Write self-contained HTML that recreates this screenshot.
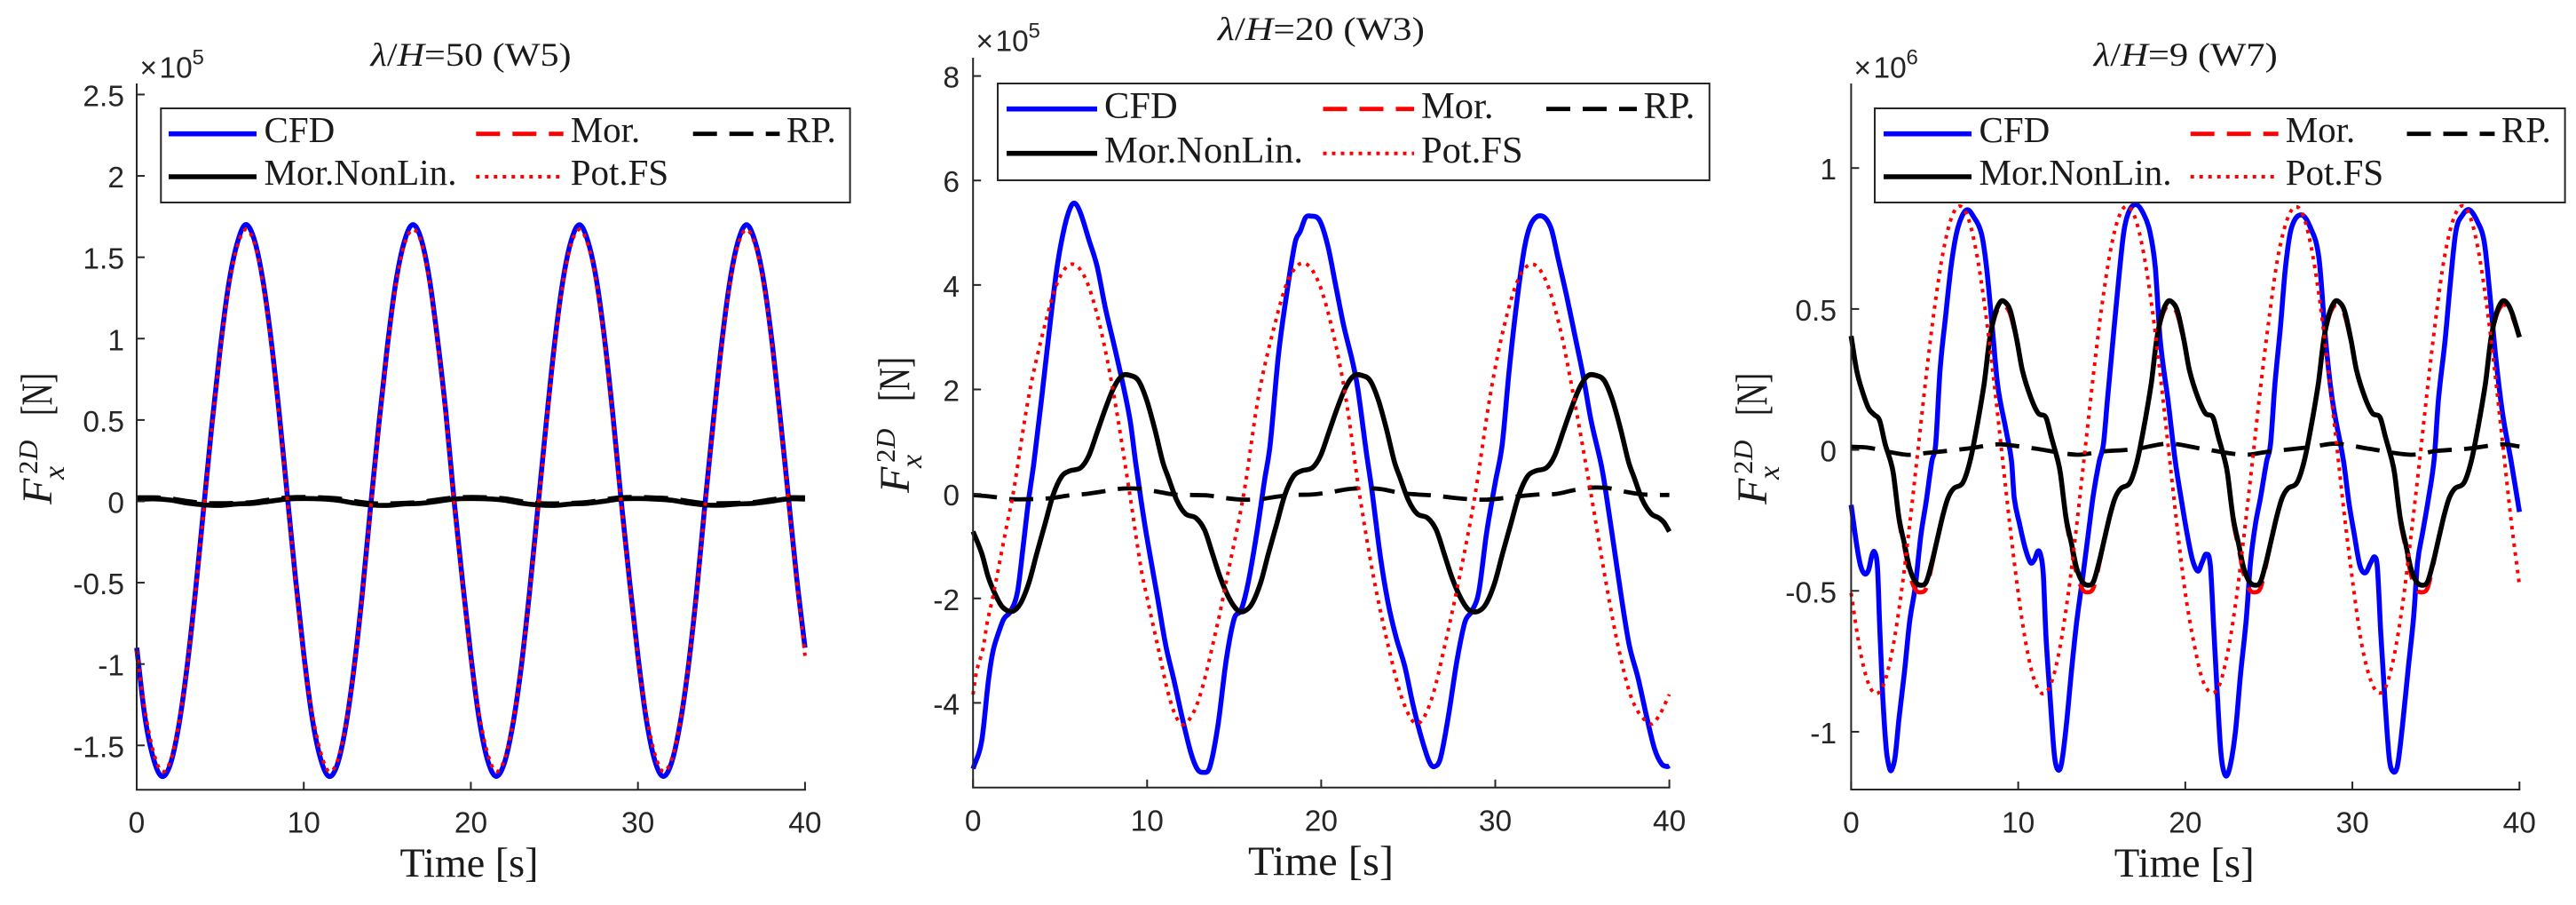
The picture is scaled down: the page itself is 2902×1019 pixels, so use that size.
<!DOCTYPE html>
<html lang="en">
<head>
<meta charset="utf-8">
<title>Horizontal force time series for three wave cases</title>
<style>
html,body{margin:0;padding:0;background:#fff;width:2902px;height:1019px;overflow:hidden}
svg{display:block}
.tick{font-family:"Liberation Sans",sans-serif;font-size:33.5px;fill:#262626}
.serif{font-family:"Liberation Serif",serif;fill:#1a1a1a}
</style>
</head>
<body>
<svg id="chart" xmlns="http://www.w3.org/2000/svg" width="2902" height="1019" viewBox="0 0 2902 1019"></svg>
<script>
// ---------- shared data ----------
const xTickValues = [0, 10, 20, 30, 40];
const xTickLabels = ['0', '10', '20', '30', '40'];
const seriesNames = ['CFD', 'Mor.', 'RP.', 'Mor.NonLin.', 'Pot.FS'];
const timeHalf = [0,.5,1,1.5,2,2.5,3,3.5,4,4.5,5,5.5,6,6.5,7,7.5,8,8.5,9,9.5,10,10.5,11,11.5,12,12.5,13,13.5,14,14.5,15,15.5,16,16.5,17,17.5,18,18.5,19,19.5,20,20.5,21,21.5,22,22.5,23,23.5,24,24.5,25,25.5,26,26.5,27,27.5,28,28.5,29,29.5,30,30.5,31,31.5,32,32.5,33,33.5,34,34.5,35,35.5,36,36.5,37,37.5,38,38.5,39,39.5,40];
const timeWhole = [0,1,2,3,4,5,6,7,8,9,10,11,12,13,14,15,16,17,18,19,20,21,22,23,24,25,26,27,28,29,30,31,32,33,34,35,36,37,38,39,40];

// ---------- panel 1: lambda/H = 50 (W5), x 1e5 ----------
const p1YTicks = [2.5, 2, 1.5, 1, 0.5, 0, -0.5, -1, -1.5];
const p1YTickLabels = ['2.5', '2', '1.5', '1', '0.5', '0', '-0.5', '-1', '-1.5'];
const p1Cfd = [-.90,-1.33,-1.58,-1.69,-1.62,-1.39,-1.03,-.57,-.05,.47,.94,1.33,1.58,1.70,1.62,1.39,1.03,.57,.05,-.47,-.94,-1.33,-1.58,-1.69,-1.62,-1.39,-1.03,-.57,-.03,.48,.95,1.34,1.59,1.70,1.62,1.38,1.00,.55,.0,-.49,-.95,-1.34,-1.59,-1.69,-1.61,-1.38,-1.03,-.57,-.05,.47,.96,1.35,1.60,1.70,1.60,1.37,1.00,.53,.0,-.49,-.95,-1.34,-1.59,-1.69,-1.61,-1.38,-1.03,-.57,-.03,.48,.96,1.35,1.60,1.70,1.60,1.37,1.00,.53,.03,-.47,-.90];
const p1Mor = [.016,.018,.012,-.004,-.016,-.018,-.012,-.006,.006,.017,.02,.018,.012,-.004,-.017,-.019,-.012,-.006,.005,.017,.02,.018,.012,-.005,-.017,-.019,-.012,-.006,.006,.018,.02,.017,.012,-.004,-.017,-.018,-.012,-.006,.006,.018,.018];
const p1RP = [.024,.024,.018,.002,-.01,-.012,-.01,-.004,.012,.023,.026,.024,.018,.002,-.011,-.013,-.01,-.004,.011,.023,.026,.024,.018,.001,-.011,-.013,-.01,-.004,.012,.024,.026,.023,.018,.002,-.011,-.012,-.01,-.004,.012,.024,.024];
const p1NonLin = [.012,.015,.008,-.01,-.021,-.025,-.016,-.012,.001,.014,.017,.015,.007,-.01,-.022,-.025,-.016,-.012,0,.014,.017,.015,.007,-.011,-.022,-.025,-.016,-.012,.001,.015,.017,.014,.007,-.01,-.022,-.024,-.016,-.012,.001,.015,.014];
const p1Pot = [-.92,-1.29,-1.54,-1.66,-1.60,-1.38,-1.03,-.58,-.07,.45,.92,1.31,1.56,1.67,1.60,1.37,1.01,.55,.03,-.49,-.96,-1.30,-1.54,-1.66,-1.60,-1.38,-1.03,-.58,-.05,.46,.93,1.32,1.57,1.67,1.60,1.36,.98,.53,-.02,-.51,-.97,-1.31,-1.55,-1.66,-1.59,-1.37,-1.03,-.58,-.07,.45,.94,1.33,1.58,1.67,1.58,1.35,.98,.51,-.02,-.51,-.97,-1.31,-1.55,-1.66,-1.59,-1.37,-1.03,-.58,-.05,.46,.94,1.33,1.58,1.67,1.58,1.35,.98,.51,.01,-.49,-.95];

// ---------- panel 2: lambda/H = 20 (W3), x 1e5 ----------
const p2YTicks = [8, 6, 4, 2, 0, -2, -4];
const p2YTickLabels = ['8', '6', '4', '2', '0', '-2', '-4'];
const p2CfdT = [0,.5,.88,1.14,1.45,1.77,2.15,2.55,2.87,3.19,3.5,3.97,4.45,4.83,5.24,5.6,5.87,6.18,6.66,7.13,7.6,8.08,8.55,9.02,9.34,9.65,9.97,10.6,11.07,11.55,12,12.5,12.87,13.2,13.6,14.07,14.54,15,15.4,15.8,16.3,16.75,17.07,17.54,18,18.5,18.8,19.1,19.37,19.9,20.38,20.85,21.3,21.8,22.1,22.6,22.9,23.4,23.85,24.3,24.8,25.27,25.7,26.2,26.5,26.85,27.3,27.8,28.26,28.64,29.05,29.5,30,30.4,30.8,31.26,31.7,32.1,32.68,33.2,33.6,34.1,34.6,35.05,35.5,36.06,36.3,36.8,37.25,37.7,38.2,38.7,39.15,39.56,39.9,40];
const p2Cfd = [-5.26,-4.72,-3.58,-3.02,-2.67,-2.39,-2.25,-1.88,-1.03,-.12,.61,1.92,3.33,4.35,5.09,5.49,5.56,5.37,4.86,4.35,3.56,2.88,2.19,1.41,.6,-.12,-.8,-1.99,-2.9,-3.58,-4.26,-4.94,-5.26,-5.33,-5.23,-4.43,-3.19,-2.39,-2.22,-1.71,-.75,.27,.95,2.65,3.79,4.81,5.03,5.29,5.32,5.24,4.75,3.96,3.21,2.53,2.02,.78,.1,-1.2,-2.1,-2.74,-3.3,-4.03,-4.6,-5.12,-5.22,-5.06,-4.27,-3.19,-2.45,-2.25,-1.88,-.75,.22,.95,2.37,3.73,4.75,5.2,5.32,5.09,4.52,3.79,2.99,2.26,1.41,.6,.15,-.97,-1.99,-2.9,-3.52,-4.27,-4.88,-5.17,-5.22,-5.2];
const p2NonLinT = [0,.5,.88,1.3,1.7,2.24,2.7,3.2,3.66,4.13,4.6,5.08,5.55,6.18,6.65,7.13,7.6,8.08,8.55,9.02,9.5,9.97,10.44,10.9,11.2,11.7,12.2,12.8,13.3,13.75,14.2,14.7,15.17,15.55,16.01,16.51,16.97,17.44,17.91,18.39,18.86,19.49,19.96,20.44,20.91,21.39,21.86,22.33,22.81,23.28,23.75,24.21,24.51,25.01,25.51,26.11,26.61,27.06,27.51,28.01,28.48,29,29.46,29.96,30.42,30.89,31.36,31.84,32.31,32.94,33.41,33.89,34.36,34.84,35.31,35.78,36.26,36.73,37.2,37.66,37.96,38.46,38.96,39.4,39.7,40];
const p2NonLin = [-.72,-1.14,-1.6,-1.94,-2.17,-2.25,-2.11,-1.71,-1.14,-.58,-.02,.33,.44,.5,.73,1.18,1.63,2.03,2.26,2.27,2.17,1.8,1.24,.61,.33,-.12,-.38,-.46,-.69,-1.14,-1.6,-1.99,-2.22,-2.25,-2.11,-1.71,-1.14,-.58,-.02,.33,.44,.5,.73,1.18,1.63,2.03,2.26,2.27,2.17,1.8,1.24,.61,.33,-.12,-.38,-.46,-.69,-1.14,-1.6,-1.99,-2.22,-2.25,-2.11,-1.71,-1.14,-.58,-.02,.33,.44,.5,.73,1.18,1.63,2.03,2.26,2.27,2.17,1.8,1.24,.61,.33,-.12,-.38,-.46,-.55,-.72];
const p2Mor = [-.72,-1.14,-1.59,-1.93,-2.16,-2.24,-2.10,-1.70,-1.13,-.58,-.02,.33,.44,.5,.73,1.18,1.63,2.02,2.25,2.26,2.16,1.79,1.24,.61,.33,-.12,-.38,-.46,-.69,-1.13,-1.59,-1.98,-2.21,-2.24,-2.10,-1.70,-1.13,-.58,-.02,.33,.44,.5,.73,1.18,1.63,2.02,2.25,2.26,2.16,1.79,1.24,.61,.33,-.12,-.38,-.46,-.69,-1.13,-1.59,-1.98,-2.21,-2.24,-2.10,-1.70,-1.13,-.58,-.02,.33,.44,.5,.73,1.18,1.63,2.02,2.25,2.26,2.16,1.79,1.24,.61,.33,-.12,-.38,-.46,-.55,-.72];
const p2RPT = [0,1,2.2,3.3,4.5,5.5,6.5,7.5,8.5,9.5,10.5,11.5,12.5,13.5,14.5,15.5,16.5,17.5,18.5,19.5,20.5,21.5,22.5,23.5,24.5,25.5,26.5,27.5,28.5,29.5,30.5,31.5,32.5,33.5,34.5,35.5,36.5,37.5,38.5,39.5,40];
const p2RP = [-.02,-.05,-.1,-.1,-.08,-.03,0,.05,.1,.1,.05,-.01,-.02,-.03,-.08,-.11,-.1,-.05,-.02,-.01,.03,.09,.11,.09,.02,-.01,-.03,-.07,-.1,-.11,-.08,-.04,-.01,0,.07,.12,.11,.04,-.01,-.02,-.02];
const p2PotT = [0,.2,.57,.82,1.14,1.92,2.3,3.2,4.1,4.9,5.7,6.5,7.3,8.1,9,9.65,9.97,10.6,11.2,11.7,12.2,13,14.07,14.54,15.55,16.4,17.3,18.1,18.95,19.8,20.6,21.4,22.2,23,23.9,24.7,25.5,26.3,27.1,28,28.85,29.7,30.5,31.3,32.1,32.9,33.7,34.5,35.5,36.3,37.1,37.9,38.9,39.4,40];
const p2Pot = [-3.84,-3.4,-2.96,-2.45,-1.97,-.63,0,1.87,3.2,4.09,4.4,4.09,3.2,1.87,0,-1.43,-1.94,-2.9,-3.8,-4.29,-4.4,-3.9,-2.45,-1.68,0,1.87,3.2,4.09,4.42,4.09,3.2,1.87,0,-1.58,-2.98,-3.97,-4.4,-3.97,-2.9,-1.5,0,1.87,3.2,4.09,4.4,4.09,3.2,1.87,0,-1.58,-2.98,-3.97,-4.4,-4.25,-3.84];

// ---------- panel 3: lambda/H = 9 (W7), x 1e6 ----------
const p3YTicks = [1, 0.5, 0, -0.5, -1];
const p3YTickLabels = ['1', '0.5', '0', '-0.5', '-1'];
const p3CfdT = [0,.33,.56,.82,1.05,1.25,1.41,1.58,1.7,1.87,2.1,2.3,2.43,2.63,2.86,3.19,3.5,3.84,4.17,4.5,4.83,5.06,5.32,5.65,5.98,6.3,6.64,6.96,7.3,7.8,8.1,8.44,8.77,9.26,9.6,9.76,10.08,10.41,10.74,10.97,11.17,11.33,11.5,11.66,11.9,12.16,12.38,12.6,12.88,13.2,13.5,13.86,14.2,14.5,14.85,15.1,15.34,15.67,16,16.33,16.66,17.08,17.48,17.87,18.2,18.5,18.96,19.4,19.8,20.1,20.43,20.76,21,21.25,21.5,21.7,21.9,22.14,22.4,22.67,23,23.3,23.65,23.9,24.2,24.5,24.87,25.1,25.36,25.7,26,26.35,26.94,27.5,28,28.4,28.8,29.47,29.8,30.1,30.45,30.78,31.1,31.34,31.5,31.7,31.93,32.2,32.42,32.7,33,33.34,33.67,33.9,34.2,34.56,34.9,35.15,35.55,35.87,36.2,36.6,37,37.5,37.9,38.24,38.57,39,39.5,40];
const p3Cfd = [-.195,-.336,-.41,-.44,-.425,-.373,-.363,-.42,-.61,-.85,-1.06,-1.13,-1.135,-1.09,-.956,-.789,-.61,-.484,-.305,-.18,-.04,.02,.282,.472,.65,.767,.83,.852,.83,.767,.65,.44,.23,.073,-.04,-.17,-.263,-.347,-.4,-.39,-.36,-.37,-.44,-.66,-.87,-1.08,-1.135,-1.11,-.977,-.777,-.61,-.452,-.295,-.158,-.04,.02,.178,.389,.597,.777,.85,.87,.84,.777,.65,.389,.178,-.04,-.19,-.295,-.39,-.43,-.4,-.37,-.41,-.63,-.85,-1.08,-1.155,-1.125,-1,-.8,-.6,-.4,-.263,-.17,-.04,.02,.23,.44,.65,.787,.834,.787,.68,.389,.178,-.04,-.19,-.295,-.41,-.436,-.4,-.38,-.42,-.65,-.87,-1.09,-1.14,-1.12,-.977,-.777,-.59,-.4,-.295,-.17,-.03,.178,.389,.597,.777,.834,.852,.808,.735,.545,.335,.125,-.04,-.22];
const p3NonLinT = [0,.33,.66,1.05,1.38,1.7,2.04,2.36,2.53,2.86,3.2,3.5,3.84,4.17,4.5,4.83,5.16,5.5,5.8,6.14,6.64,6.96,7.3,7.95,8.28,8.6,8.93,9.2,9.53,9.92,10.25,10.74,11.2,11.66,11.96,12.38,12.53,12.86,13.2,13.5,13.84,14.17,14.5,14.83,15.16,15.5,15.8,16.14,16.64,16.96,17.3,17.95,18.28,18.6,18.93,19.2,19.53,19.92,20.25,20.74,21.2,21.66,21.96,22.38,22.53,22.86,23.2,23.5,23.84,24.17,24.5,24.83,25.16,25.5,25.8,26.14,26.64,26.96,27.3,27.95,28.28,28.6,28.93,29.2,29.53,29.92,30.25,30.74,31.2,31.66,31.96,32.38,32.53,32.86,33.2,33.5,33.84,34.17,34.5,34.83,35.16,35.5,35.8,36.14,36.64,36.96,37.3,37.95,38.28,38.6,38.93,39.2,39.53,40];
const p3NonLin = [.404,.282,.21,.147,.125,.105,.02,-.04,-.085,-.24,-.336,-.42,-.468,-.48,-.468,-.4,-.316,-.23,-.17,-.137,-.12,-.074,.01,.23,.389,.48,.525,.525,.493,.389,.282,.188,.13,.115,.05,-.04,-.085,-.24,-.336,-.42,-.468,-.48,-.468,-.4,-.316,-.23,-.17,-.137,-.12,-.074,.01,.23,.389,.48,.525,.525,.493,.389,.282,.188,.13,.115,.05,-.04,-.085,-.24,-.336,-.42,-.468,-.48,-.468,-.4,-.316,-.23,-.17,-.137,-.12,-.074,.01,.23,.389,.48,.525,.525,.493,.389,.282,.188,.13,.115,.05,-.04,-.085,-.24,-.336,-.42,-.468,-.48,-.468,-.4,-.316,-.23,-.17,-.137,-.12,-.074,.01,.23,.389,.48,.525,.525,.49,.40];
const p3Mor = [.404,.282,.21,.147,.125,.105,.02,-.04,-.09,-.25,-.35,-.44,-.495,-.505,-.49,-.41,-.316,-.23,-.17,-.137,-.12,-.074,.01,.225,.383,.472,.512,.512,.48,.383,.282,.188,.13,.115,.05,-.04,-.09,-.25,-.35,-.44,-.495,-.505,-.49,-.41,-.316,-.23,-.17,-.137,-.12,-.074,.01,.225,.383,.472,.512,.512,.48,.383,.282,.188,.13,.115,.05,-.04,-.09,-.25,-.35,-.44,-.495,-.505,-.49,-.41,-.316,-.23,-.17,-.137,-.12,-.074,.01,.225,.383,.472,.512,.512,.48,.383,.282,.188,.13,.115,.05,-.04,-.09,-.25,-.35,-.44,-.495,-.505,-.49,-.41,-.316,-.23,-.17,-.137,-.12,-.074,.01,.225,.383,.472,.512,.512,.48,.40];
const p3RPT = [0,1,3.3,4.5,7,8.8,9.6,11,13.5,15,17,19,21,23.5,25,27.5,29,31,33.5,35,37,39,40];
const p3RP = [.011,.008,-.017,-.011,.005,.02,.016,.005,-.017,-.006,.003,.022,.004,-.017,-.006,.01,.022,.004,-.017,-.004,.005,.02,.012];
const p3Pot = [-.508,-.70,-.823,-.865,-.823,-.70,-.508,-.267,0,.267,.508,.70,.823,.865,.823,.70,.508,.267,0,-.267,-.508,-.70,-.823,-.865,-.823,-.70,-.508,-.267,0,.267,.508,.70,.823,.865,.823,.70,.508,.267,0,-.267,-.508,-.68,-.81,-.86,-.84,-.73,-.55,-.31,-.05,.22,.46,.67,.80,.86,.84,.73,.55,.31,.05,-.22,-.46,-.67,-.80,-.86,-.84,-.73,-.55,-.31,-.05,.22,.47,.68,.81,.865,.835,.72,.53,.29,.02,-.25,-.48];

// ---------- layout ----------
const panels = [
  {id:'p1', left:154, right:906.9, top:94, bottom:889.3, yMin:-1.773, yMax:2.568, exp:'5',
   yTicks:p1YTicks, yLabels:p1YTickLabels, labelRight:140, xLabelBase:937.5,
   title:'=50 (W5)', titleX:417.6, titleW:226, titleBase:74,
   multX:157.5, multBase:87.5,
   timeX:450.5, timeW:156, timeBase:987,
   ylab:{f:568, n:468, nw:48, base:58},
   box:[181.3,122,776.3,106], rowLine:[150.7,199], rowBase:[160,208],
   lineX:[[190,289],[536.3,634.7],[780.7,878.4]], textX:[297.5,642.7,885.9], fs:41, longW:217,
   series:[[timeHalf,p1Cfd],[timeWhole,p1Mor],[timeWhole,p1RP],[timeWhole,p1NonLin],[timeHalf,p1Pot]]},
  {id:'p2', left:1096.2, right:1880.6, top:65, bottom:886.7, yMin:-5.62, yMax:8.35, exp:'5',
   yTicks:p2YTicks, yLabels:p2YTickLabels, labelRight:1081, xLabelBase:935.5,
   title:'=20 (W3)', titleX:1372, titleW:233, titleBase:45,
   multX:1099.5, multBase:57.5,
   timeX:1406, timeW:164, timeBase:985,
   ylab:{f:555, n:452, nw:50, base:1024},
   box:[1124,94,801.8,109], rowLine:[122.7,172.7], rowBase:[133,183],
   lineX:[[1134,1236],[1490.5,1593],[1742,1844]], textX:[1244,1601,1851.5], fs:42.5, longW:224,
   series:[[p2CfdT,p2Cfd],[p2NonLinT,p2Mor],[p2RPT,p2RP],[p2NonLinT,p2NonLin],[p2PotT,p2Pot]]},
  {id:'p3', left:2085.4, right:2838.3, top:94, bottom:889, yMin:-1.205, yMax:1.30, exp:'6',
   yTicks:p3YTicks, yLabels:p3YTickLabels, labelRight:2069, xLabelBase:937.5,
   title:'=9 (W7)', titleX:2358.8, titleW:207, titleBase:74,
   multX:2088.5, multBase:87.5,
   timeX:2381.7, timeW:158, timeBase:987,
   ylab:{f:568, n:468, nw:48, base:1990},
   box:[2112,122,777.6,106], rowLine:[150.7,199], rowBase:[160,208],
   lineX:[[2122,2221],[2467.7,2566.7],[2711.5,2810.4]], textX:[2229.5,2574.7,2817.9], fs:41, longW:217,
   series:[[p3CfdT,p3Cfd],[p3NonLinT,p3Mor],[p3RPT,p3RP],[p3NonLinT,p3NonLin],[timeHalf,p3Pot]]}
];
const seriesStyles = [
  {stroke:'#0000ff', width:5.6, dash:''},
  {stroke:'#ff0000', width:4.8, dash:'27 14'},
  {stroke:'#000000', width:4.8, dash:'27 14'},
  {stroke:'#000000', width:5.6, dash:''},
  {stroke:'#ff0000', width:4, dash:'4 6'}
];
// legend: [column, row] for each series
const legendSlots = [[0,0],[1,0],[2,0],[0,1],[1,1]];
const AXIS = '#262626';

const svg = document.getElementById('chart');
const NS = 'http://www.w3.org/2000/svg';
function make(tag, attrs, parent, text) {
  const el = document.createElementNS(NS, tag);
  for (const k in attrs) el.setAttribute(k, attrs[k]);
  if (text !== undefined) el.textContent = text;
  parent.appendChild(el);
  return el;
}
function slug(s) { return s.toLowerCase().replace(/[^a-z]+/g, '-').replace(/-$/, ''); }

// smooth path through samples using Hermite tangents in time
function curve(ts, vs, sx, sy) {
  let d = 'M' + sx(ts[0]).toFixed(2) + ' ' + sy(vs[0]).toFixed(2);
  const n = ts.length;
  const slope = i => {
    const a = Math.max(0, i - 1), b = Math.min(n - 1, i + 1);
    return (vs[b] - vs[a]) / (ts[b] - ts[a]);
  };
  for (let i = 0; i < n - 1; i++) {
    const h = ts[i + 1] - ts[i];
    const c1t = ts[i] + h / 3, c1v = vs[i] + slope(i) * h / 3;
    const c2t = ts[i + 1] - h / 3, c2v = vs[i + 1] - slope(i + 1) * h / 3;
    d += 'C' + sx(c1t).toFixed(2) + ' ' + sy(c1v).toFixed(2) + ' ' +
         sx(c2t).toFixed(2) + ' ' + sy(c2v).toFixed(2) + ' ' +
         sx(ts[i + 1]).toFixed(2) + ' ' + sy(vs[i + 1]).toFixed(2);
  }
  return d;
}

panels.forEach(function (p) {
  const sx = t => p.left + (t - 0) / 40 * (p.right - p.left);
  const sy = v => p.bottom - (v - p.yMin) / (p.yMax - p.yMin) * (p.bottom - p.top);

  const g = make('g', {}, svg);
  
  

  // series
  p.series.forEach(function (s, i) {
    const st = seriesStyles[i];
    const path = make('path', {d: curve(s[0], s[1], sx, sy), fill: 'none', stroke: st.stroke,
      'stroke-width': st.width, 'stroke-linejoin': 'round'}, g);
    if (st.dash) path.setAttribute('stroke-dasharray', st.dash);
    
    
  });

  // axes
  const yAxis = make('line', {x1: p.left, x2: p.left, y1: p.top, y2: p.bottom, stroke: AXIS, 'stroke-width': 2}, g);
  
  
  const xAxis = make('line', {x1: p.left - 1, x2: p.right + 1, y1: p.bottom, y2: p.bottom, stroke: AXIS, 'stroke-width': 2}, g);
  
  

  // x ticks
  xTickValues.forEach(function (v, i) {
    const tick = make('line', {x1: sx(v), x2: sx(v), y1: p.bottom, y2: p.bottom - 9, stroke: AXIS, 'stroke-width': 2}, g);
    
    
    const lab = make('text', {x: sx(v), y: p.xLabelBase, 'text-anchor': 'middle', 'class': 'tick'}, g, xTickLabels[i]);
    
    
  });

  // y ticks
  p.yTicks.forEach(function (v, i) {
    const tick = make('line', {x1: p.left, x2: p.left + 9, y1: sy(v), y2: sy(v), stroke: AXIS, 'stroke-width': 2}, g);
    
    
    const lab = make('text', {x: p.labelRight, y: sy(v) + 13, 'text-anchor': 'end', 'class': 'tick'}, g, p.yLabels[i]);
    
    
  });

  // exponent multiplier
  const mult = make('g', {}, g);
  
  
  make('text', {x: p.multX, y: p.multBase, 'class': 'tick'}, mult, '\u00D7');
  make('text', {x: p.multX + 22, y: p.multBase, 'class': 'tick'}, mult, '10');
  make('text', {x: p.multX + 59, y: p.multBase - 15, 'class': 'tick', style: 'font-size:24px'}, mult, p.exp);

  // title
  const title = make('text', {x: p.titleX, y: p.titleBase, 'class': 'serif', 'font-size': 37,
    textLength: p.titleW, lengthAdjust: 'spacingAndGlyphs'}, g);
  
  
  make('tspan', {'font-style': 'italic'}, title, '\u03BB');
  make('tspan', {}, title, '/');
  make('tspan', {'font-style': 'italic'}, title, 'H');
  make('tspan', {}, title, p.title);

  // x label
  const timeLab = make('text', {x: p.timeX, y: p.timeBase, 'class': 'serif', 'font-size': 47,
    textLength: p.timeW, lengthAdjust: 'spacingAndGlyphs'}, g, 'Time [s]');
  
  

  // y label (rotated)
  const yl = make('g', {}, g);
  
  
  const b = p.ylab.base, f = p.ylab.f;
  make('text', {transform: 'translate(' + b + ' ' + f + ') rotate(-90)', 'class': 'serif', 'font-size': 48, 'font-style': 'italic'}, yl, 'F');
  make('text', {transform: 'translate(' + (b - 16) + ' ' + (f - 34) + ') rotate(-90)', 'class': 'serif', 'font-size': 31}, yl, '2');
  make('text', {transform: 'translate(' + (b - 16) + ' ' + (f - 50) + ') rotate(-90)', 'class': 'serif', 'font-size': 31, 'font-style': 'italic'}, yl, 'D');
  make('text', {transform: 'translate(' + (b + 14) + ' ' + (f - 28) + ') rotate(-90)', 'class': 'serif', 'font-size': 34, 'font-style': 'italic'}, yl, 'x');
  make('text', {transform: 'translate(' + b + ' ' + p.ylab.n + ') rotate(-90)', 'class': 'serif', 'font-size': 50,
    textLength: p.ylab.nw, lengthAdjust: 'spacingAndGlyphs'}, yl, '[N]');

  // legend
  const lg = make('g', {}, g);
  
  
  const box = make('rect', {x: p.box[0], y: p.box[1], width: p.box[2], height: p.box[3], fill: '#fff', stroke: AXIS, 'stroke-width': 2}, lg);
  
  
  seriesNames.forEach(function (name, i) {
    const col = legendSlots[i][0], row = legendSlots[i][1], st = seriesStyles[i];
    const key = make('line', {x1: p.lineX[col][0], x2: p.lineX[col][1], y1: p.rowLine[row], y2: p.rowLine[row],
      stroke: st.stroke, 'stroke-width': st.width}, lg);
    if (st.dash) key.setAttribute('stroke-dasharray', st.dash);
    
    
    const label = make('text', {x: p.textX[col], y: p.rowBase[row], 'class': 'serif', 'font-size': p.fs}, lg, name);
    if (name === 'Mor.NonLin.') {
      label.setAttribute('textLength', p.longW);
      label.setAttribute('lengthAdjust', 'spacingAndGlyphs');
    }
    
    
  });
});
</script>
</body>
</html>
